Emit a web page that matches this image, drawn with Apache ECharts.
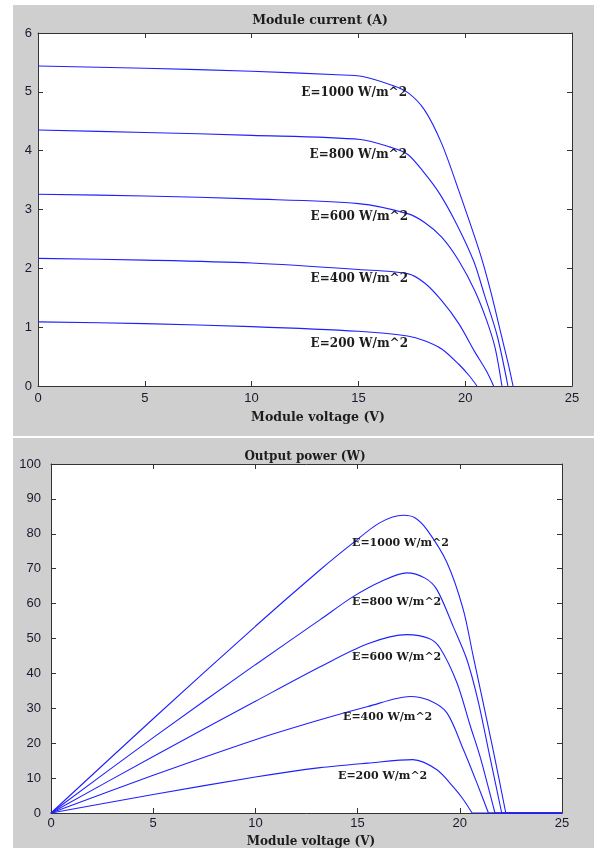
<!DOCTYPE html>
<html><head><meta charset="utf-8">
<script src="https://cdn.jsdelivr.net/npm/echarts/dist/echarts.min.js"></script>
<style>
html,body{margin:0;padding:0;background:#fff;}
#wrap{position:relative;width:594px;height:848px;}
.panel{position:absolute;background:#cfcfcf;}
#chart{position:absolute;left:0;top:0;width:594px;height:848px;}
</style></head><body>
<div id="wrap">
<div class="panel" style="left:13px;top:5px;width:581px;height:431px"></div>
<div class="panel" style="left:13px;top:438px;width:581px;height:410px"></div>
<div id="chart"></div>
</div>
<script>
// ---------- data ----------
const curveNames = ['E=1000 W/m^2', 'E=800 W/m^2', 'E=600 W/m^2', 'E=400 W/m^2', 'E=200 W/m^2'];
const voltTicks = [0, 5, 10, 15, 20, 25];
const currentTicks = [0, 1, 2, 3, 4, 5, 6];
const powerTicks = [0, 10, 20, 30, 40, 50, 60, 70, 80, 90, 100];

// I-V curves (module voltage V, module current A)
const ivV1000 = [0, 5, 10, 14, 15.2, 16.5, 17.3, 18.1, 18.9, 19.7, 20.7, 21.2, 21.7, 22.0, 22.24];
const ivI1000 = [5.44, 5.40, 5.35, 5.29, 5.26, 5.12, 4.99, 4.69, 4.12, 3.32, 2.25, 1.6, 0.85, 0.4, 0];
const ivV800 = [0, 5, 10, 15.1, 16.5, 17.3, 18.0, 18.8, 19.6, 20.4, 20.9, 21.5, 22.0];
const ivI800 = [4.35, 4.31, 4.26, 4.19, 4.06, 3.94, 3.66, 3.27, 2.75, 2.12, 1.55, 0.85, 0];
const ivV600 = [0, 5, 10, 15, 17.3, 18.1, 18.9, 19.7, 20.45, 21.0, 21.4, 21.72];
const ivI600 = [3.26, 3.23, 3.18, 3.10, 2.93, 2.78, 2.53, 2.13, 1.62, 1.12, 0.65, 0];
const ivV400 = [0, 5, 10, 15, 17.3, 18.1, 18.9, 19.7, 20.45, 21.0, 21.33];
const ivI400 = [2.17, 2.14, 2.09, 1.98, 1.91, 1.75, 1.45, 1.06, 0.58, 0.25, 0];
const ivV200 = [0, 5, 10, 15, 17.3, 18.1, 18.9, 19.7, 20.2, 20.55];
const ivI200 = [1.09, 1.06, 1.01, 0.93, 0.85, 0.77, 0.63, 0.37, 0.17, 0];

// P-V curves (module voltage V, output power W); last point is the zero line end at 25 V
const pvV1000 = [0, 5, 10, 13.17, 14.78, 16.1, 17.24, 17.8, 18.39, 19.37, 20.17, 20.66, 21.63, 22.25, 25];
const pvP1000 = [0, 27, 53.5, 69.7, 77.4, 83.2, 85.3, 84.6, 81.2, 71.8, 58.3, 44.8, 18.1, 0, 0];
const pvV800 = [0, 5, 10, 13.17, 14.78, 16.2, 17.41, 18.3, 18.88, 19.68, 20.35, 20.9, 21.4, 22.05, 25];
const pvP800 = [0, 21.6, 42.5, 55.4, 62, 66.5, 68.8, 67.3, 64, 53.4, 43.9, 32, 18.1, 0, 0];
const pvV600 = [0, 5, 10, 13.17, 15.5, 17.41, 18.5, 19.04, 19.86, 20.51, 21.0, 21.72, 25];
const pvP600 = [0, 16.2, 32, 41.9, 48.5, 51.1, 50.0, 47.2, 37.3, 25, 16, 0, 0];
const pvV400 = [0, 5, 10, 13.17, 15.5, 17.57, 18.5, 19.37, 20.18, 20.83, 21.4, 25];
const pvP400 = [0, 10.8, 21, 26.7, 30.5, 33.4, 32.3, 28.7, 18.1, 8.7, 0, 0];
const pvV200 = [0, 5, 10, 13.17, 15.5, 17.7, 18.88, 19.69, 20.18, 20.6, 25];
const pvP200 = [0, 5.3, 10.3, 13.0, 14.3, 15.3, 12.4, 7.4, 3.8, 0, 0];

// ---------- build ----------
const pairs = (xs, ys) => xs.map((x, i) => [x, ys[i]]);
const ivSets = [[ivV1000, ivI1000], [ivV800, ivI800], [ivV600, ivI600], [ivV400, ivI400], [ivV200, ivI200]];
const pvSets = [[pvV1000, pvP1000], [pvV800, pvP800], [pvV600, pvP600], [pvV400, pvP400], [pvV200, pvP200]];

const LINE = '#2020ff';
const AX = '#333';
const tickFont = {fontFamily: '"Liberation Sans", Arial, sans-serif', fontSize: 13, color: '#1a1a2e'};
const serif = '"DejaVu Serif", "Liberation Serif", serif';

function ax(grid, pos, show, ticks, margin) {
  return {
    type: 'value', gridIndex: grid, position: pos,
    min: ticks[0], max: ticks[ticks.length - 1], interval: ticks[1] - ticks[0],
    axisLine: {show: true, onZero: false, lineStyle: {color: AX, width: 1}},
    axisTick: {show: true, inside: true, length: 5, lineStyle: {color: AX}},
    axisLabel: Object.assign({show: show, margin: margin}, tickFont),
    splitLine: {show: false}
  };
}

const series = [];
ivSets.forEach((s, i) => series.push({
  type: 'line', name: curveNames[i], xAxisIndex: 0, yAxisIndex: 0,
  data: pairs(s[0], s[1]), showSymbol: false, smooth: 0.3,
  lineStyle: {color: LINE, width: 1.1}, silent: true
}));
pvSets.forEach((s, i) => {
  const all = pairs(s[0], s[1]);
  series.push({
    type: 'line', name: curveNames[i], xAxisIndex: 2, yAxisIndex: 2,
    data: all.slice(0, -1), showSymbol: false, smooth: 0.3,
    lineStyle: {color: LINE, width: 1.1}, silent: true
  });
  series.push({
    type: 'line', name: curveNames[i] + ' tail', xAxisIndex: 2, yAxisIndex: 2,
    data: all.slice(-2), showSymbol: false, smooth: false,
    lineStyle: {color: LINE, width: 1.1}, silent: true
  });
});

function txt(x, y, text, size, align) {
  return {type: 'text', x: x, y: y, z: 100, silent: true,
    style: {text: text, fill: '#1c1c1c', font: 'bold ' + size + 'px ' + serif,
      textAlign: align || 'center', textVerticalAlign: 'middle'}};
}

const topLabelPos = [[407, 93], [407, 155], [408, 217], [408, 279], [408, 344]];
const botLabelPos = [[352, 543], [352, 602], [352, 657], [343, 717], [338, 776]];

const graphics = [
  txt(320, 21, 'Module current (A)', 12.5),
  txt(318, 418, 'Module voltage (V)', 12.5),
  txt(305, 457, 'Output power (W)', 12),
  txt(311, 842, 'Module voltage (V)', 12)
];
topLabelPos.forEach((p, i) => graphics.push(txt(p[0], p[1], curveNames[i], 12, 'right')));
botLabelPos.forEach((p, i) => graphics.push(txt(p[0], p[1], curveNames[i], 11, 'left')));

const chart = echarts.init(document.getElementById('chart'), null, {renderer: 'canvas', width: 594, height: 848});
chart.setOption({
  animation: false,
  backgroundColor: 'transparent',
  grid: [
    {left: 38, top: 33, width: 534, height: 353, show: true, backgroundColor: '#fff', borderWidth: 0},
    {left: 51, top: 464, width: 511, height: 349, show: true, backgroundColor: '#fff', borderWidth: 0}
  ],
  xAxis: [
    ax(0, 'bottom', true, voltTicks, 6),
    ax(0, 'top', false, voltTicks, 6),
    ax(1, 'bottom', true, voltTicks, 4),
    ax(1, 'top', false, voltTicks, 4)
  ],
  yAxis: [
    ax(0, 'left', true, currentTicks, 6),
    ax(0, 'right', false, currentTicks, 6),
    ax(1, 'left', true, powerTicks, 10),
    ax(1, 'right', false, powerTicks, 10)
  ],
  series: series,
  graphic: graphics
});
</script>
</body></html>
